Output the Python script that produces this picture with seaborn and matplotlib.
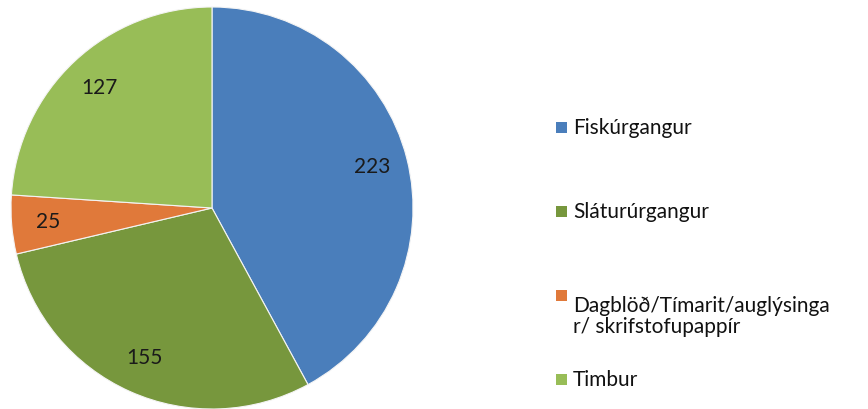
import matplotlib
matplotlib.use("Agg")
import matplotlib.pyplot as plt
from matplotlib.patches import Rectangle
import numpy as np
import seaborn as sns

categories = ["Fiskúrgangur", "Sláturúrgangur", "Dagblöð/Tímarit/auglýsinga\nr/ skrifstofupappír", "Timbur"]
values = [223, 155, 25, 127]
colors = ["#4A7EBB", "#77973D", "#E0793A", "#98BD57"]

sns.set_theme(style="white")
plt.rcParams['font.family'] = ['Lato', 'DejaVu Sans']

fig = plt.figure(figsize=(8.68, 4.09), dpi=100)
W, H = 868, 409
cx, cy, r = 212, 201, 201
ax = fig.add_axes([(cx - r) / W, (cy - r) / H, 2 * r / W, 2 * r / H])
wedges, _ = ax.pie(values, colors=sns.color_palette(colors), startangle=90, counterclock=False,
                   radius=1.0, wedgeprops=dict(edgecolor="#f4f4f4", linewidth=0.8))
ax.set_xlim(-1, 1)
ax.set_ylim(-1, 1)
ax.set_aspect("equal")
ax.axis("off")

for w, v in zip(wedges, values):
    mid = np.deg2rad((w.theta1 + w.theta2) / 2)
    d = 0.82
    ax.text(d * np.cos(mid), d * np.sin(mid), str(v), ha="center", va="center",
            fontsize=15, color="#1a1a1a")

# legend
rows_y = [128, 212, 296, 380]
for yy, lab, c in zip(rows_y, categories, colors):
    fig.patches.append(Rectangle((556 / W, 1 - (yy + 5) / H), 11 / W, 11 / H,
                                 transform=fig.transFigure, facecolor=c, edgecolor="none"))
    fig.text(573 / W, 1 - yy / H, lab, ha="left", va="top" if "\n" in lab else "center",
             fontsize=15, color="#111111", linespacing=1.05)

fig.savefig("out.png", dpi=100)
